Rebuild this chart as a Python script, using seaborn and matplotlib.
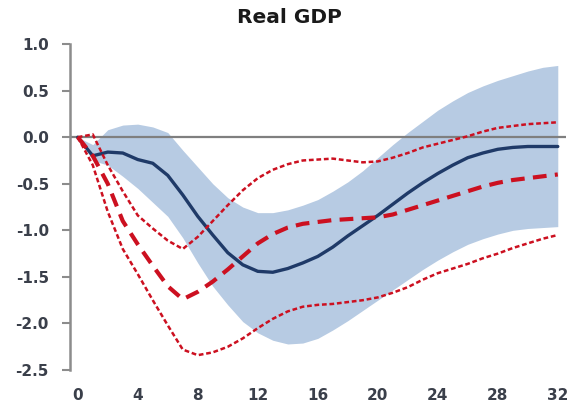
import numpy as np
import pandas as pd
import matplotlib
matplotlib.use("Agg")
import matplotlib.pyplot as plt
import seaborn as sns

# Quarters after the shock
quarters = list(range(0, 33))

# Median response and its confidence band
median = [0.0, -0.2, -0.16, -0.17, -0.24, -0.28, -0.41, -0.62, -0.85, -1.05,
          -1.24, -1.37, -1.44, -1.45, -1.41, -1.35, -1.28, -1.18, -1.06, -0.95,
          -0.84, -0.72, -0.6, -0.49, -0.39, -0.3, -0.22, -0.17, -0.13, -0.11,
          -0.1, -0.1, -0.1]
band_upper = [0.0, -0.08, 0.08, 0.13, 0.14, 0.11, 0.05, -0.14, -0.32, -0.5,
              -0.65, -0.75, -0.81, -0.81, -0.78, -0.73, -0.67, -0.58, -0.48, -0.36,
              -0.22, -0.08, 0.05, 0.17, 0.29, 0.39, 0.48, 0.55, 0.61, 0.66,
              0.71, 0.75, 0.77]
band_lower = [0.0, -0.25, -0.3, -0.42, -0.55, -0.7, -0.85, -1.08, -1.35, -1.6,
              -1.8, -1.98, -2.1, -2.18, -2.22, -2.21, -2.16, -2.07, -1.97, -1.86,
              -1.75, -1.64, -1.53, -1.42, -1.32, -1.23, -1.15, -1.09, -1.04, -1.0,
              -0.98, -0.97, -0.96]

# Alternative model: central response and its bounds
alt_central = [0.0, -0.2, -0.5, -0.9, -1.15, -1.38, -1.6, -1.74, -1.66, -1.55,
               -1.42, -1.28, -1.14, -1.04, -0.97, -0.93, -0.91, -0.89, -0.88, -0.87,
               -0.86, -0.83, -0.78, -0.73, -0.68, -0.63, -0.58, -0.53, -0.49, -0.46,
               -0.44, -0.42, -0.4]
alt_upper = [0.0, 0.03, -0.3, -0.58, -0.84, -0.98, -1.11, -1.2, -1.07, -0.9,
             -0.73, -0.57, -0.44, -0.35, -0.29, -0.25, -0.24, -0.23, -0.25, -0.27,
             -0.26, -0.22, -0.17, -0.11, -0.07, -0.03, 0.01, 0.06, 0.1, 0.12,
             0.14, 0.15, 0.16]
alt_lower = [0.0, -0.3, -0.8, -1.2, -1.47, -1.75, -2.02, -2.28, -2.34, -2.31,
             -2.25, -2.16, -2.05, -1.95, -1.87, -1.82, -1.8, -1.79, -1.77, -1.75,
             -1.72, -1.67, -1.61, -1.53, -1.46, -1.41, -1.36, -1.3, -1.25, -1.19,
             -1.14, -1.09, -1.05]

title = "Real GDP"
y_ticks = [1.0, 0.5, 0.0, -0.5, -1.0, -1.5, -2.0, -2.5]
x_ticks = [0, 4, 8, 12, 16, 20, 24, 28, 32]

df = pd.DataFrame({
    "quarter": quarters,
    "median": median,
    "upper": band_upper,
    "lower": band_lower,
    "alt": alt_central,
    "alt_hi": alt_upper,
    "alt_lo": alt_lower,
})

sns.set_theme(style="white")
plt.rcParams["font.family"] = ["DejaVu Sans"]

fig = plt.figure(figsize=(5.77, 4.04), dpi=100)
ax = fig.add_axes([0.121, 0.084, 0.86, 0.807])

BAND = "#b7cbe3"
NAVY = "#1f3a68"
RED = "#cc1020"

ax.fill_between(df["quarter"], df["lower"], df["upper"], color=BAND, lw=0, zorder=1)
ax.axhline(0, color="#7f7f7f", lw=1.6, zorder=2)

sns.lineplot(data=df, x="quarter", y="median", ax=ax, color=NAVY, lw=2.4, zorder=4)
sns.lineplot(data=df, x="quarter", y="alt", ax=ax, color=RED, lw=3.0, zorder=5)
ax.lines[-1].set_dashes([3.3, 2.0])
for col in ["alt_hi", "alt_lo"]:
    sns.lineplot(data=df, x="quarter", y=col, ax=ax, color=RED, lw=1.8, zorder=5)
    ax.lines[-1].set_dashes([1.9, 1.1])

ax.set_xlim(-0.53, 32.55)
ax.set_ylim(-2.5, 1.0)
ax.set_xticks(x_ticks)
ax.set_yticks(y_ticks)
ax.set_xticklabels([str(t) for t in x_ticks])
ax.set_yticklabels([f"{t:.1f}" for t in y_ticks])
ax.set_xlabel("")
ax.set_ylabel("")

for side in ["top", "right", "bottom"]:
    ax.spines[side].set_visible(False)
ax.spines["left"].set_color("#8c8c8c")
ax.spines["left"].set_linewidth(1.8)

ax.tick_params(axis="y", which="both", left=True, length=6, width=1.5,
               color="#8c8c8c", labelsize=11, labelcolor="#3a3f4a", pad=9)
ax.tick_params(axis="x", which="both", bottom=False, labelsize=11,
               labelcolor="#3a3f4a", pad=7)
for lab in ax.get_xticklabels() + ax.get_yticklabels():
    lab.set_fontweight("bold")

fig.text(289.5 / 577, 1 - 17.5 / 404, title, ha="center", va="center",
         fontsize=14.5, fontweight="bold", color="#1a1a1a")

fig.savefig("out.png", dpi=100, facecolor="white")
